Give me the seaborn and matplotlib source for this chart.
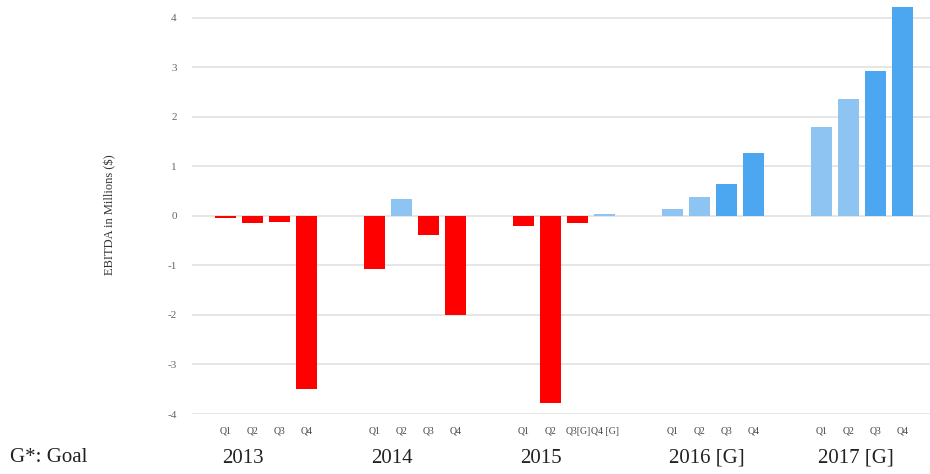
import numpy as np
import pandas as pd
import matplotlib
matplotlib.use("Agg")
import matplotlib.pyplot as plt
import seaborn as sns

# Quarterly EBITDA (millions of $), actuals and goals
years = ["2013", "2014", "2015", "2016 [G]", "2017 [G]"]
quarters = [
    ["Q1", "Q2", "Q3", "Q4"],
    ["Q1", "Q2", "Q3", "Q4"],
    ["Q1", "Q2", "Q3[G]", "Q4 [G]"],
    ["Q1", "Q2", "Q3", "Q4"],
    ["Q1", "Q2", "Q3", "Q4"],
]
ebitda_2013 = [-0.05, -0.14, -0.13, -3.50]
ebitda_2014 = [-1.07, 0.34, -0.38, -2.00]
ebitda_2015 = [-0.20, -3.78, -0.15, 0.04]
ebitda_2016 = [0.14, 0.39, 0.65, 1.28]
ebitda_2017 = [1.80, 2.36, 2.92, 4.22]
tones = [
    ["loss", "loss", "loss", "loss"],
    ["loss", "light", "loss", "loss"],
    ["loss", "loss", "loss", "light"],
    ["light", "light", "dark", "dark"],
    ["light", "light", "dark", "dark"],
]
palette = {"loss": "#ff0000", "light": "#8ec4f2", "dark": "#4da6f0"}

values = [ebitda_2013, ebitda_2014, ebitda_2015, ebitda_2016, ebitda_2017]
group_step = 5.5  # four bars plus a gap between years

rows = []
for g, (yr, qs, vals, tn) in enumerate(zip(years, quarters, values, tones)):
    for q, (ql, v, t) in enumerate(zip(qs, vals, tn)):
        rows.append({"pos": g * group_step + q, "year": yr, "quarter": ql,
                     "ebitda": v, "tone": t})
df = pd.DataFrame(rows)

sns.set_theme(style="white")
plt.rcParams["font.family"] = ["Liberation Serif", "DejaVu Serif"]

fig = plt.figure(figsize=(9.3, 4.74), dpi=100)
ax = fig.add_axes([192 / 930, 60 / 474, 1 - 192 / 930, (414 - 5.6) / 474])

sns.barplot(data=df, x="pos", y="ebitda", hue="tone", palette=palette,
            native_scale=True, width=0.78, dodge=False, saturation=1,
            legend=False, ax=ax, linewidth=0)

ax.set_xlim(-1.24, 26.0)
ax.set_ylim(-4, 4.25)
ax.set_yticks(np.arange(-4, 5, 1))
ax.set_yticklabels([str(v) for v in range(-4, 5)])
ax.yaxis.grid(True, color="#e2e2e2", linewidth=1.2)
ax.set_axisbelow(True)
for s in ax.spines.values():
    s.set_visible(False)

ax.tick_params(axis="y", length=0, pad=11, labelsize=8, labelcolor="#666666")
ax.set_xticks(df["pos"].tolist())
ax.set_xticklabels(df["quarter"].tolist())
ax.tick_params(axis="x", length=0, pad=9, labelsize=7, labelcolor="#444444")
ax.set_xlabel("")
ax.set_ylabel("")

# Year labels under each quarter group
for g, yr in enumerate(years):
    ax.annotate(yr, xy=(g * group_step - 0.12, 0), xycoords=("data", "axes fraction"),
                xytext=(0, -31.7), textcoords="offset points",
                ha="left", va="center", fontsize=15, color="#222222")

fig.text(110 / 930, 1 - 215 / 474, "EBITDA in Millions ($)", rotation=90,
         ha="center", va="center", fontsize=9, color="#333333")
fig.text(10 / 930, 1 - 458 / 474, "G*: Goal", ha="left", va="center",
         fontsize=15, color="#222222")

fig.savefig("out.png", dpi=100)
